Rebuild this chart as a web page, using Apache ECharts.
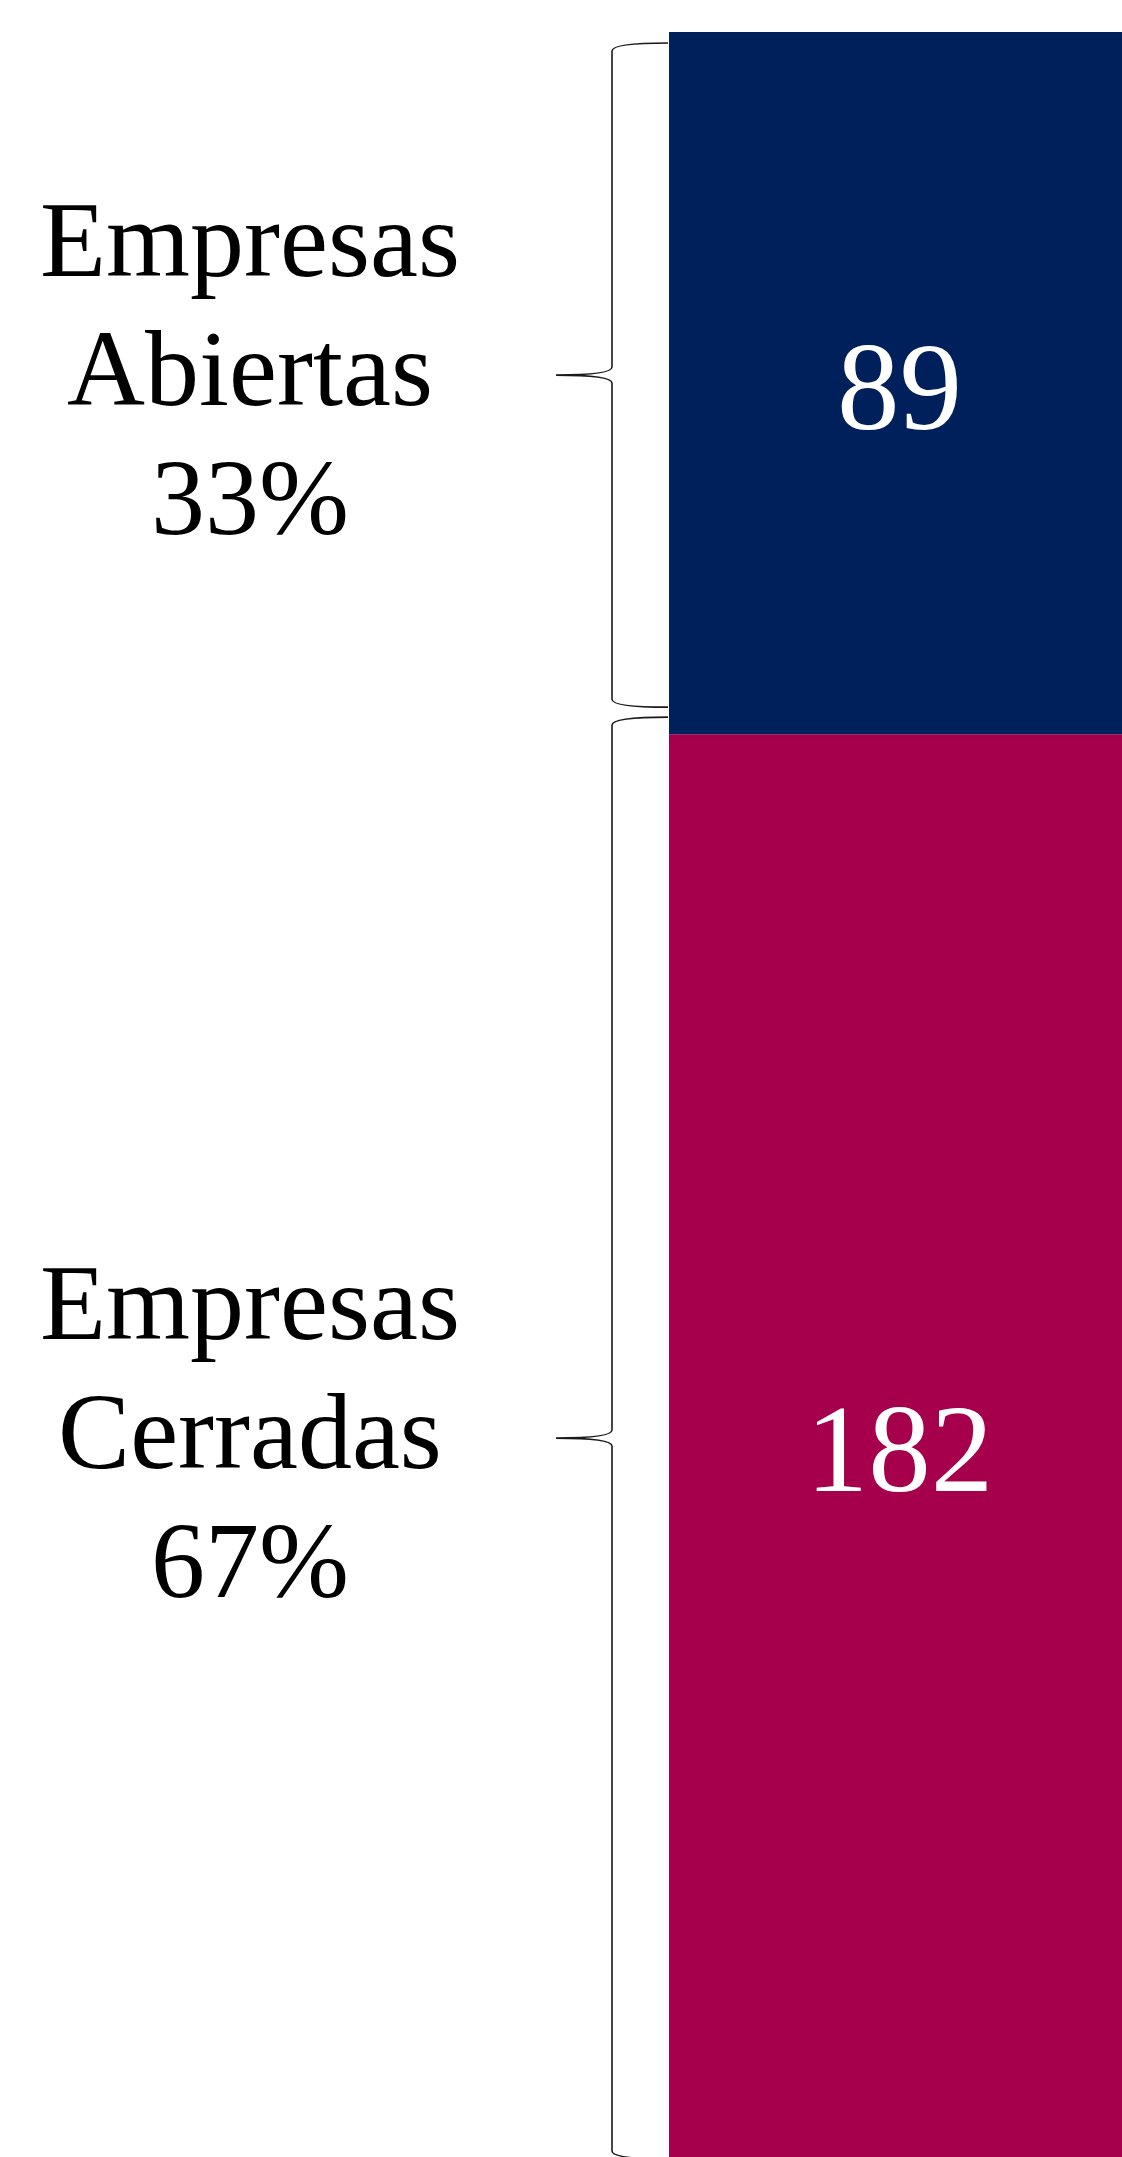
<!DOCTYPE html>
<html>
<head>
<meta charset="utf-8">
<script src="https://cdn.jsdelivr.net/npm/echarts@6/dist/echarts.min.js"></script>
<style>
html,body{margin:0;padding:0;background:#ffffff;}
#chart{width:1122px;height:2157px;}
</style>
</head>
<body>
<div id="chart"></div>
<script>
// ---- data ----
const groupNames = ['Empresas\nAbiertas', 'Empresas\nCerradas'];
const groupValues = [89, 182];
const barCategory = ['Total'];

// ---- derived ----
const total = groupValues.reduce((a, b) => a + b, 0);
const pct = groupValues.map(v => Math.round(v / total * 100));
// cumulative ranges from the top of the stack downward
const ranges = [];
let acc = total;
groupValues.forEach((v, i) => { ranges.push([0, acc, acc - v, i]); acc -= v; });

const colors = ['#00205B', '#A6004D'];
const serif = '"Liberation Serif", "Times New Roman", Times, serif';
// per-brace pixel insets [top, bottom] (layout only)
const braceInsets = [[11, 27], [-17, 11]];
// the bar runs slightly past the bottom edge of the picture
const axisMin = 1.65;

const chart = echarts.init(document.getElementById('chart'));

// bottom segment first in the stack
const barSeries = groupValues.map((v, i) => ({ i, v })).reverse().map(o => ({
  type: 'bar',
  stack: 'total',
  barWidth: '100%',
  data: [o.v],
  itemStyle: { color: colors[o.i] },
  label: {
    show: true,
    position: 'inside',
    offset: [4, 13],
    color: '#ffffff',
    fontSize: 125,
    fontFamily: serif,
    formatter: p => String(p.value)
  },
  silent: true
}));

chart.setOption({
  animation: false,
  backgroundColor: '#ffffff',
  grid: { left: 669, right: 0, top: 32, bottom: 0 },
  xAxis: { type: 'category', data: barCategory, show: false },
  yAxis: { type: 'value', min: axisMin, max: total, show: false },
  series: barSeries.concat([{
    type: 'custom',
    clip: false,
    silent: true,
    encode: { x: 0, y: [1, 2] },
    data: ranges,
    renderItem: function (params, api) {
      const idx = api.value(3);
      const top = api.coord([api.value(0), api.value(1)]);
      const bot = api.coord([api.value(0), api.value(2)]);
      const bandW = api.size([1, 0])[0];
      const barLeft = top[0] - bandW / 2;
      const xr = barLeft - 1, xv = barLeft - 57, xt = barLeft - 113;
      const y0 = top[1] + braceInsets[idx][0];
      const y1 = bot[1] - braceInsets[idx][1];
      const ym = (y0 + y1) / 2;
      const c = 8;
      const path = 'M' + xr + ' ' + y0 +
        ' Q' + xv + ' ' + y0 + ' ' + xv + ' ' + (y0 + c) +
        ' L' + xv + ' ' + (ym - c) +
        ' Q' + xv + ' ' + ym + ' ' + xt + ' ' + ym +
        ' Q' + xv + ' ' + ym + ' ' + xv + ' ' + (ym + c) +
        ' L' + xv + ' ' + (y1 - c) +
        ' Q' + xv + ' ' + y1 + ' ' + xr + ' ' + y1;
      return {
        type: 'group',
        children: [{
          type: 'path',
          shape: { pathData: path },
          style: { fill: 'none', stroke: '#1a1a1a', lineWidth: 1.6 }
        }, {
          type: 'text',
          style: {
            text: groupNames[idx] + '\n' + pct[idx] + '%',
            x: xt - 306,
            y: ym + 2,
            align: 'center',
            verticalAlign: 'middle',
            fontSize: 108,
            lineHeight: 129,
            fontFamily: serif,
            fill: '#000000'
          }
        }]
      };
    }
  }])
});
</script>
</body>
</html>
